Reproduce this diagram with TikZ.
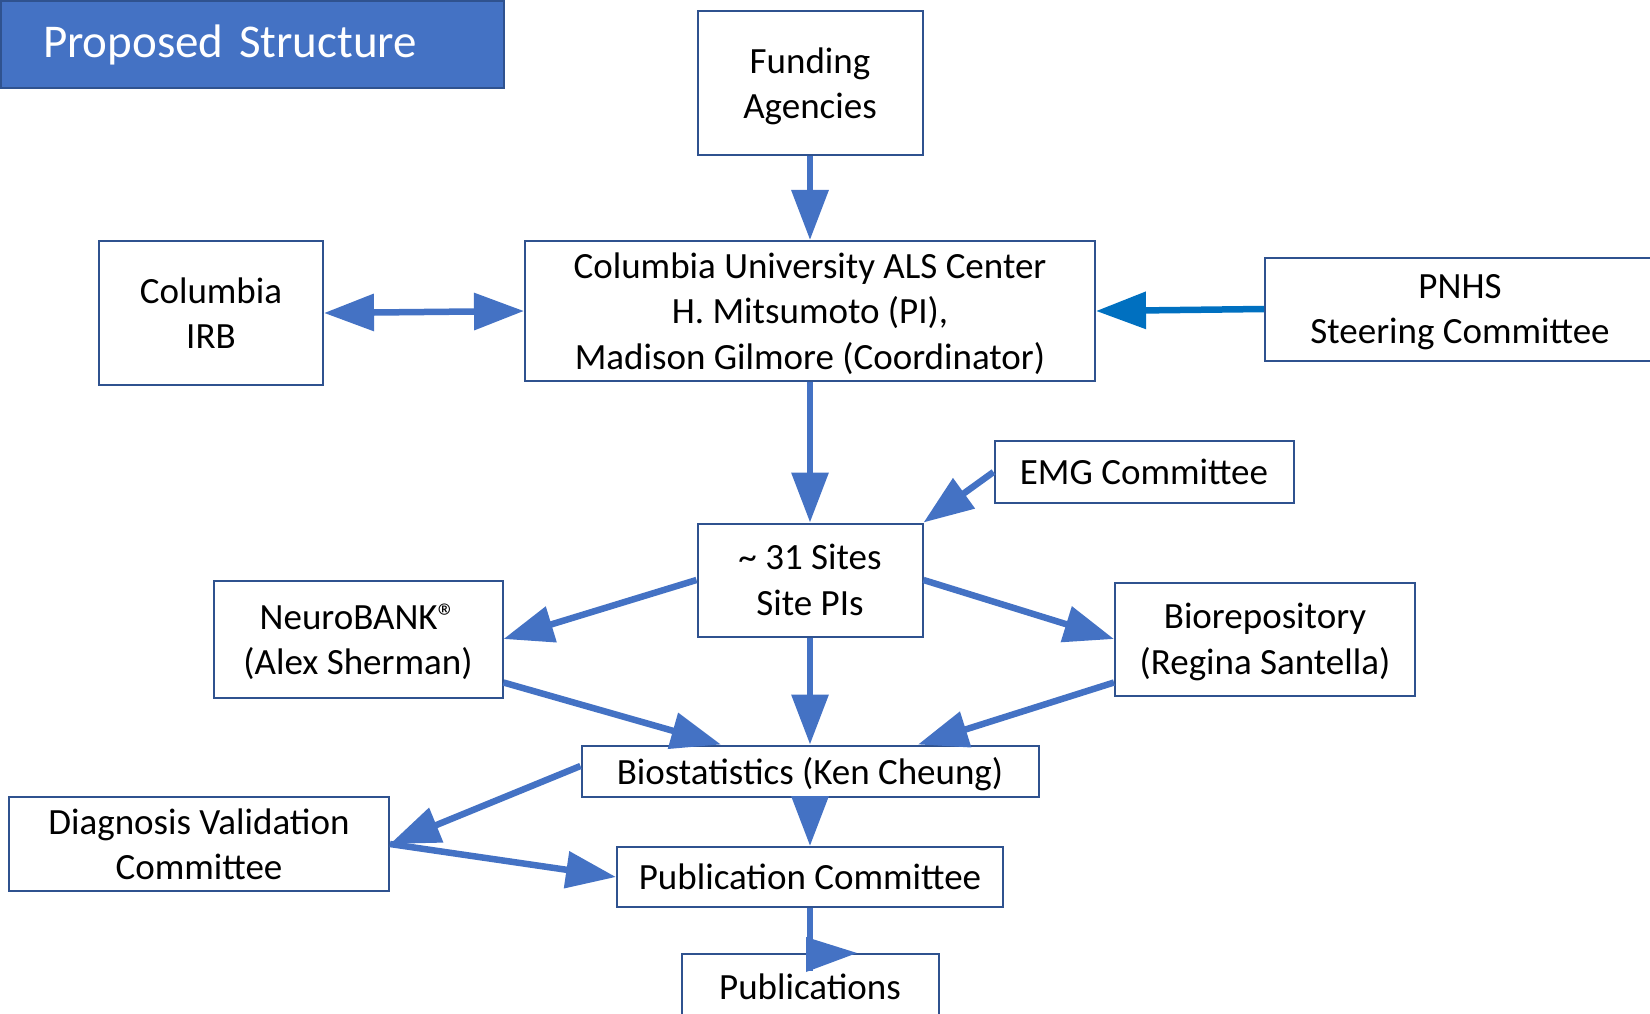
\documentclass[tikz,border=0pt]{standalone}
\usepackage{fontspec}
\setmainfont{Carlito}
\usetikzlibrary{arrows.meta}
\definecolor{officeblue}{HTML}{4472C4}
\definecolor{edgeblue}{HTML}{2F528F}
\definecolor{pnhsblue}{HTML}{0070C0}

\begin{document}
\begin{tikzpicture}[x=1pt,y=-1pt,
    box/.style={draw=edgeblue, line width=2pt, fill=white, align=center, inner sep=0pt,
      text depth=0pt, font=\fontsize{37}{45.5}\selectfont},
    conn/.style={draw=officeblue, line width=6.5pt, -{Triangle[length=50pt,width=36pt]}},
    banner/.style={fill=officeblue, draw=edgeblue, line width=2pt, text=white, align=left,
      inner xsep=42pt, inner ysep=0pt, text width=419pt, minimum height=87pt,
      font=\fontsize{47}{56}\selectfont}]
\useasboundingbox (0,0) rectangle (1650,1014);

\node[banner, anchor=north west] (title) at (0,0) {Proposed Structure};

\node[box, minimum width=225pt, minimum height=144pt] (fund) at (810,83) {Funding\\Agencies};
\node[box, minimum width=570pt, minimum height=140pt] (als) at (810,311)
    {Columbia University ALS Center\\H. Mitsumoto (PI),\\Madison Gilmore (Coordinator)};
\node[box, minimum width=224pt, minimum height=144pt] (irb) at (211,313) {Columbia\\IRB};
\node[box, minimum width=390pt, minimum height=103pt] (pnhs) at (1460,309) {PNHS\\Steering Committee};
\node[box, minimum width=299pt, minimum height=62pt] (emg) at (1144,472) {EMG Committee};
\node[box, minimum width=225pt, minimum height=113pt] (sites) at (810,580) {\textasciitilde{} 31 Sites\\Site PIs};
\node[box, minimum width=289pt, minimum height=117pt] (nbank) at (358,639) {NeuroBANK®\\(Alex Sherman)};
\node[box, minimum width=300pt, minimum height=113pt] (biorep) at (1265,639) {Biorepository\\(Regina Santella)};
\node[box, minimum width=457pt, minimum height=51pt] (biostat) at (810,771) {Biostatistics (Ken Cheung)};
\node[box, minimum width=380pt, minimum height=94pt] (diag) at (199,844) {Diagnosis Validation\\Committee};
\node[box, minimum width=386pt, minimum height=60pt] (pubc) at (810,877) {Publication Committee};
\node[box, minimum width=257pt, minimum height=66pt] (pubs) at (810,987) {Publications};

% arrows
\draw[conn] (fund) -- (als);
\draw[conn, {Triangle[length=50pt,width=36pt]}-{Triangle[length=50pt,width=36pt]}] (irb.east) -- (als.west);
\draw[conn, draw=pnhsblue] (pnhs.west) -- (als.east);
\draw[conn] (als) -- (sites);
\draw[conn] (emg.west) -- (sites.north east);
\draw[conn] (sites.west) -- (nbank.east);
\draw[conn] (sites.east) -- (biorep.west);
\draw[conn] (sites) -- (biostat);
\draw[conn] ([yshift=16pt]nbank.south east) -- ([xshift=-89pt]biostat.north);
\draw[conn] ([yshift=14pt]biorep.south west) -- ([xshift=108pt]biostat.north);
\draw[conn] ([yshift=5pt]biostat.west) -- (diag.east);
\draw[conn] (diag.east) -- (pubc.west);
\draw[conn] (biostat) -- (pubc);
\draw[officeblue, line width=6.5pt] (pubc.south) -- ([yshift=-18pt]pubs.north);
\fill[officeblue] ([xshift=-4pt,yshift=16pt]pubs.north) -- ([xshift=47pt]pubs.north)
    -- ([xshift=-4pt,yshift=-19pt]pubs.north) -- cycle;
\end{tikzpicture}
\end{document}
